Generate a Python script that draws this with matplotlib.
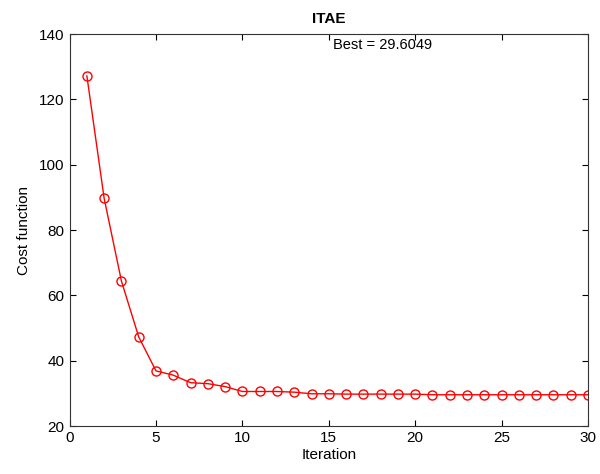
import matplotlib
matplotlib.use("Agg")
import matplotlib.pyplot as plt

plt.rcParams["font.family"] = ["Liberation Sans", "DejaVu Sans"]

iterations = list(range(1, 31))
cost = [127.2, 89.7, 64.4, 47.3, 36.9, 35.6, 33.3, 33.0, 32.1, 30.6,
        30.6, 30.6, 30.4, 29.9, 29.9, 29.8, 29.8, 29.8, 29.8, 29.8,
        29.6, 29.6, 29.6, 29.6, 29.6, 29.6, 29.6, 29.6, 29.6, 29.6]
best_value = 29.6049

fig = plt.figure(figsize=(6.0, 4.74), dpi=100)
ax = fig.add_axes([0.116, 0.101, 0.864, 0.827])

ax.plot(iterations, cost, color="red", lw=1.0, marker="o", markersize=6.5,
        markerfacecolor="none", markeredgecolor="red", markeredgewidth=1.0)

ax.set_xlim(0, 30)
ax.set_ylim(20, 140)
ax.set_xticks(range(0, 31, 5))
ax.set_yticks(range(20, 141, 20))
ax.tick_params(direction="in", top=True, right=True, labelsize=11, length=4)
for spine in ax.spines.values():
    spine.set_linewidth(0.8)
    spine.set_color("#333333")

ax.set_xlabel("Iteration", fontsize=11, labelpad=2)
ax.set_ylabel("Cost function", fontsize=11, labelpad=6)
ax.set_title("ITAE", fontsize=11, fontweight="bold", pad=8)
ax.text(18.1, 136.6, f"Best = {best_value:.4f}", fontsize=10.5,
        ha="center", va="center")

fig.savefig("out.png", dpi=100)
